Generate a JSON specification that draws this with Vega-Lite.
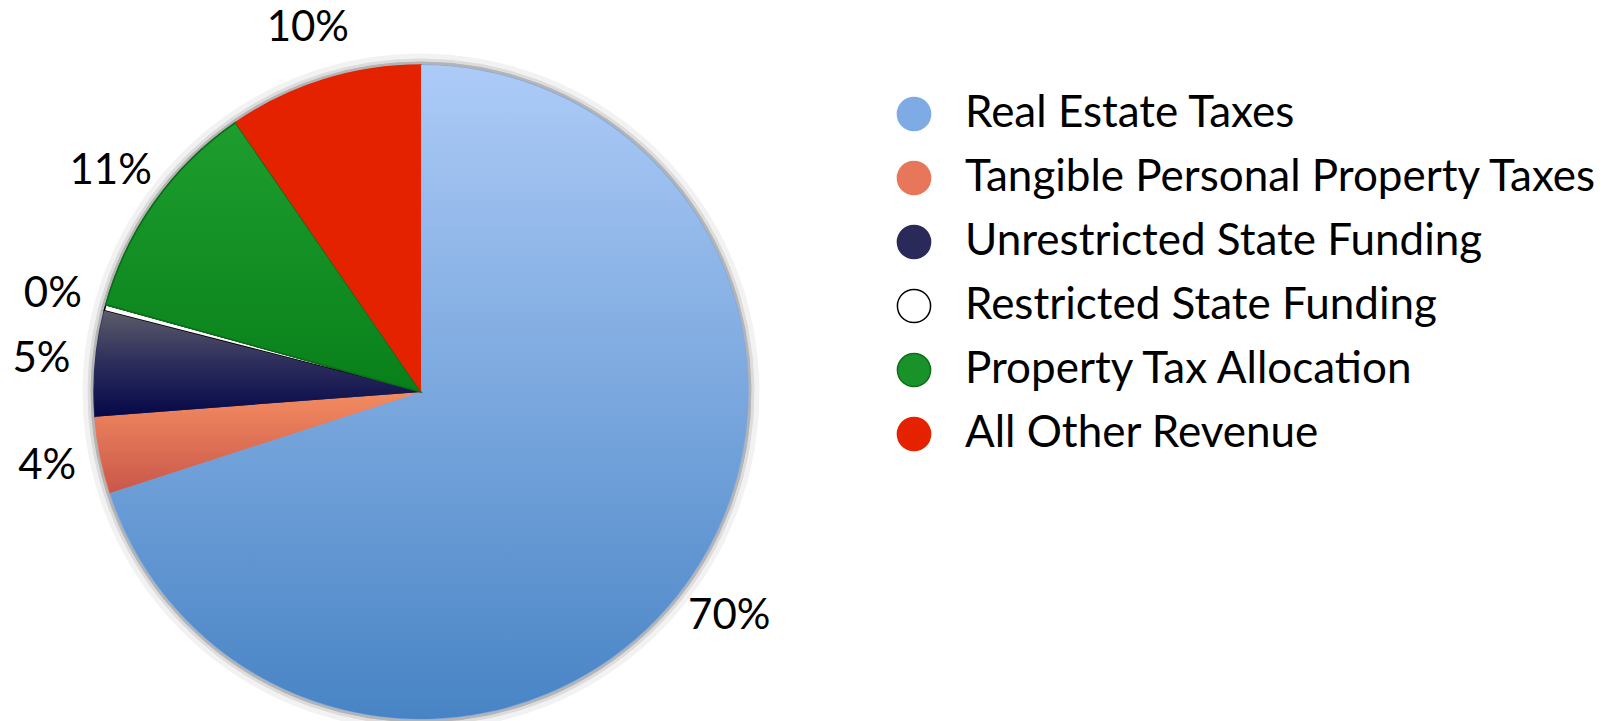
{
  "$schema": "https://vega.github.io/schema/vega-lite/v6.json",
  "width": 842,
  "height": 658,
  "autosize": {"type": "none"},
  "padding": {"left": 0, "top": 63, "right": 778, "bottom": 0},
  "background": "white",
  "config": {"view": {"stroke": null}, "font": "Lato"},
  "data": {
    "values": [
      {"category": "Real Estate Taxes", "share": 0.700, "order": 1},
      {"category": "Tangible Personal Property Taxes", "share": 0.038, "order": 2},
      {"category": "Unrestricted State Funding", "share": 0.052, "order": 3},
      {"category": "Restricted State Funding", "share": 0.003, "order": 4},
      {"category": "Property Tax Allocation", "share": 0.111, "order": 5},
      {"category": "All Other Revenue", "share": 0.096, "order": 6}
    ]
  },
  "transform": [
    {"stack": "share", "groupby": [], "sort": [{"field": "order", "order": "ascending"}], "as": ["s0", "s1"]}
  ],
  "layer": [
    {
      "mark": {"type": "arc", "outerRadius": 338, "fill": "#f2f2f2", "stroke": "#f2f2f2", "strokeWidth": 1},
      "encoding": {"theta": {"field": "s0", "type": "quantitative", "scale": {"domain": [0, 1]}}, "theta2": {"field": "s1"}}
    },
    {
      "mark": {"type": "arc", "outerRadius": 333, "fill": "#dcdcdc", "stroke": "#dcdcdc", "strokeWidth": 1},
      "encoding": {"theta": {"field": "s0", "type": "quantitative"}, "theta2": {"field": "s1"}}
    },
    {
      "mark": {"type": "arc", "outerRadius": 330, "fill": "#b4b4b4", "stroke": "#b4b4b4", "strokeWidth": 1},
      "encoding": {"theta": {"field": "s0", "type": "quantitative"}, "theta2": {"field": "s1"}}
    },
    {
      "mark": {"type": "arc", "outerRadius": 327, "strokeWidth": 1.5},
      "encoding": {
        "theta": {"field": "s0", "type": "quantitative"},
        "theta2": {"field": "s1"},
        "fill": {
          "field": "category", "type": "nominal",
          "sort": ["Real Estate Taxes", "Tangible Personal Property Taxes", "Unrestricted State Funding", "Restricted State Funding", "Property Tax Allocation", "All Other Revenue"],
          "scale": {
            "domain": ["Real Estate Taxes", "Tangible Personal Property Taxes", "Unrestricted State Funding", "Restricted State Funding", "Property Tax Allocation", "All Other Revenue"],
            "range": ["#7eaae6", "#e8765a", "#2a2a5a", "#ffffff", "#1a922a", "#e52200"]
          },
          "legend": {
            "orient": "none", "legendX": 892, "legendY": 29, "title": null,
            "symbolType": "circle", "symbolSize": 1100, "symbolStrokeWidth": 1.5,
            "labelFontSize": 44, "labelFont": "Lato", "labelColor": "black",
            "rowPadding": 20, "labelOffset": 29, "padding": 0, "labelLimit": 1000
          }
        },
        "stroke": {
          "field": "category", "type": "nominal",
          "sort": ["Real Estate Taxes", "Tangible Personal Property Taxes", "Unrestricted State Funding", "Restricted State Funding", "Property Tax Allocation", "All Other Revenue"],
          "scale": {
            "domain": ["Real Estate Taxes", "Tangible Personal Property Taxes", "Unrestricted State Funding", "Restricted State Funding", "Property Tax Allocation", "All Other Revenue"],
            "range": ["#7eaae6", "#e8765a", "#2a2a5a", "#000000", "#0b6e18", "#e52200"]
          },
          "legend": {
            "orient": "none", "legendX": 892, "legendY": 29, "title": null,
            "symbolType": "circle", "symbolSize": 1100, "symbolStrokeWidth": 1.5,
            "labelFontSize": 44, "labelFont": "Lato", "labelColor": "black",
            "rowPadding": 20, "labelOffset": 29, "padding": 0, "labelLimit": 1000
          }
        }
      }
    },
    {
      "transform": [{"filter": "datum.category === 'Real Estate Taxes'"}],
      "mark": {"type": "arc", "outerRadius": 327, "strokeWidth": 0,
        "fill": {"gradient": "linear", "x1": 0, "y1": 0, "x2": 0, "y2": 1, "stops": [{"offset": 0, "color": "#adcbf7"}, {"offset": 1, "color": "#4884c5"}]}},
      "encoding": {"theta": {"field": "s0", "type": "quantitative"}, "theta2": {"field": "s1"}}
    },
    {
      "transform": [{"filter": "datum.category === 'Tangible Personal Property Taxes'"}],
      "mark": {"type": "arc", "outerRadius": 327, "strokeWidth": 0,
        "fill": {"gradient": "linear", "x1": 0, "y1": 0, "x2": 0, "y2": 1, "stops": [{"offset": 0, "color": "#f38c60"}, {"offset": 1, "color": "#c9574a"}]}},
      "encoding": {"theta": {"field": "s0", "type": "quantitative"}, "theta2": {"field": "s1"}}
    },
    {
      "transform": [{"filter": "datum.category === 'Unrestricted State Funding'"}],
      "mark": {"type": "arc", "outerRadius": 327, "strokeWidth": 0,
        "fill": {"gradient": "linear", "x1": 0, "y1": 0, "x2": 0, "y2": 1, "stops": [{"offset": 0, "color": "#5c5c6a"}, {"offset": 0.5, "color": "#2c2c5c"}, {"offset": 1, "color": "#050848"}]}},
      "encoding": {"theta": {"field": "s0", "type": "quantitative"}, "theta2": {"field": "s1"}}
    },
    {
      "transform": [{"filter": "datum.category === 'Property Tax Allocation'"}],
      "mark": {"type": "arc", "outerRadius": 327, "stroke": "#0b6e18", "strokeWidth": 1.5,
        "fill": {"gradient": "linear", "x1": 0, "y1": 0, "x2": 0, "y2": 1, "stops": [{"offset": 0, "color": "#1e9e2e"}, {"offset": 1, "color": "#08801a"}]}},
      "encoding": {"theta": {"field": "s0", "type": "quantitative"}, "theta2": {"field": "s1"}}
    },
    {
      "transform": [{"filter": "datum.category === 'All Other Revenue'"}],
      "mark": {"type": "arc", "outerRadius": 327, "strokeWidth": 0, "fill": "#e52200"},
      "encoding": {"theta": {"field": "s0", "type": "quantitative"}, "theta2": {"field": "s1"}}
    },
    {
      "mark": {"type": "text", "radius": 381, "fontSize": 42, "font": "Lato", "color": "black"},
      "encoding": {
        "theta": {"field": "share", "type": "quantitative", "stack": true, "scale": {"domain": [0, 1]}},
        "order": {"field": "order", "type": "quantitative"},
        "text": {"field": "share", "type": "quantitative", "format": ".0%"}
      }
    }
  ]
}
